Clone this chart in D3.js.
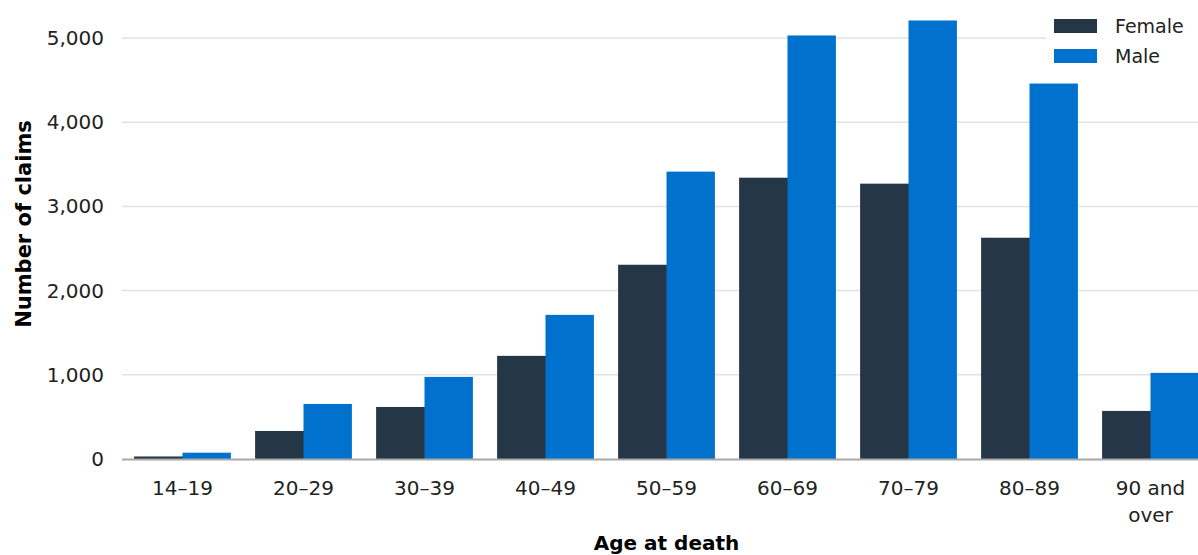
<!DOCTYPE html>
<html><head><meta charset="utf-8">
<script src="https://cdn.jsdelivr.net/npm/d3@7"></script>
<style>
html,body{margin:0;padding:0;background:#fff;overflow:hidden;}
svg{display:block;font-family:"DejaVu Sans",sans-serif;}
</style></head>
<body><svg id="chart" width="1198" height="555"></svg>
<script>
const categories = ["14–19","20–29","30–39","40–49","50–59","60–69","70–79","80–89","90 and over"];
const seriesNames = ["Female","Male"];
const female = [30, 333, 618, 1225, 2307, 3341, 3270, 2628, 571];
const male = [75, 654, 975, 1712, 3413, 5030, 5208, 4459, 1023];
const yTicks = [0, 1000, 2000, 3000, 4000, 5000];
const colors = {Female: "#253746", Male: "#0072CE"};

const svg = d3.select("#chart");
const left = 122, right = 1211, base = 459, top5k = 38;

const x = d3.scaleBand().domain(categories).range([left, right]).paddingInner(0.2).paddingOuter(0.1);
const xs = d3.scaleBand().domain(seriesNames).range([0, x.bandwidth()]);
const y = d3.scaleLinear().domain([0, 5000]).range([base, top5k]);

// gridlines
svg.append("g").selectAll("line").data(yTicks.filter(d => d > 0)).join("line")
  .attr("x1", left).attr("x2", 1198)
  .attr("y1", d => y(d)).attr("y2", d => y(d))
  .attr("stroke", "#e2e2e2").attr("stroke-width", 1.5);

// y tick labels
const yAxis = d3.axisLeft(y).tickValues(yTicks).tickFormat(d3.format(",")).tickSize(0).tickPadding(0);
const yg = svg.append("g").attr("transform", `translate(${left - 18},0)`).call(yAxis);
yg.select(".domain").remove();
yg.selectAll("text").attr("font-size", 20).attr("fill", "#222").attr("font-family", "DejaVu Sans, sans-serif");

// bars
const rows = categories.map((c, i) => ({cat: c, vals: [{s: "Female", v: female[i]}, {s: "Male", v: male[i]}]}));
const grp = svg.append("g").selectAll("g").data(rows).join("g")
  .attr("transform", d => `translate(${x(d.cat)},0)`);
grp.selectAll("rect").data(d => d.vals).join("rect")
  .attr("x", d => xs(d.s)).attr("width", d => xs.bandwidth() + (d.s === "Female" ? 0.5 : 0))
  .attr("y", d => y(d.v)).attr("height", d => base - y(d.v))
  .attr("fill", d => colors[d.s]);

// x axis line
svg.append("line").attr("x1", left).attr("x2", 1198).attr("y1", base + 0.5).attr("y2", base + 0.5)
  .attr("stroke", "#a8a8a8").attr("stroke-width", 2);

// x tick labels
const xl = svg.append("g").selectAll("text").data(categories).join("text")
  .attr("x", d => x(d) + x.bandwidth() / 2)
  .attr("y", 495)
  .attr("text-anchor", "middle").attr("font-size", 20).attr("fill", "#222");
xl.each(function(d) {
  const t = d3.select(this);
  const m = d.match(/^(\d+ and) (over)$/);
  if (m) {
    t.append("tspan").attr("x", x(d) + x.bandwidth() / 2).attr("dy", 0).text(m[1]);
    t.append("tspan").attr("x", x(d) + x.bandwidth() / 2).attr("dy", 27).text(m[2]);
  } else t.text(d);
});

// axis titles
svg.append("text").attr("x", (left + right) / 2).attr("y", 550).attr("text-anchor", "middle")
  .attr("font-size", 20).attr("font-weight", "bold").attr("fill", "#000").text("Age at death");
svg.append("text").attr("transform", "translate(31,224) rotate(-90)").attr("text-anchor", "middle")
  .attr("font-size", 21).attr("font-weight", "bold").attr("fill", "#000").text("Number of claims");

// legend
const lg = svg.append("g");
lg.append("rect").attr("x", 1046).attr("y", 0).attr("width", 152).attr("height", 75).attr("fill", "#fff");
const li = lg.selectAll("g").data(seriesNames).join("g")
  .attr("transform", (d, i) => `translate(1054,${19 + i * 30})`);
li.append("rect").attr("width", 43).attr("height", 14).attr("fill", d => colors[d]);
li.append("text").attr("x", 61).attr("y", 7).attr("dy", "0.35em").attr("font-size", 19).attr("fill", "#222").text(d => d);
</script></body></html>
